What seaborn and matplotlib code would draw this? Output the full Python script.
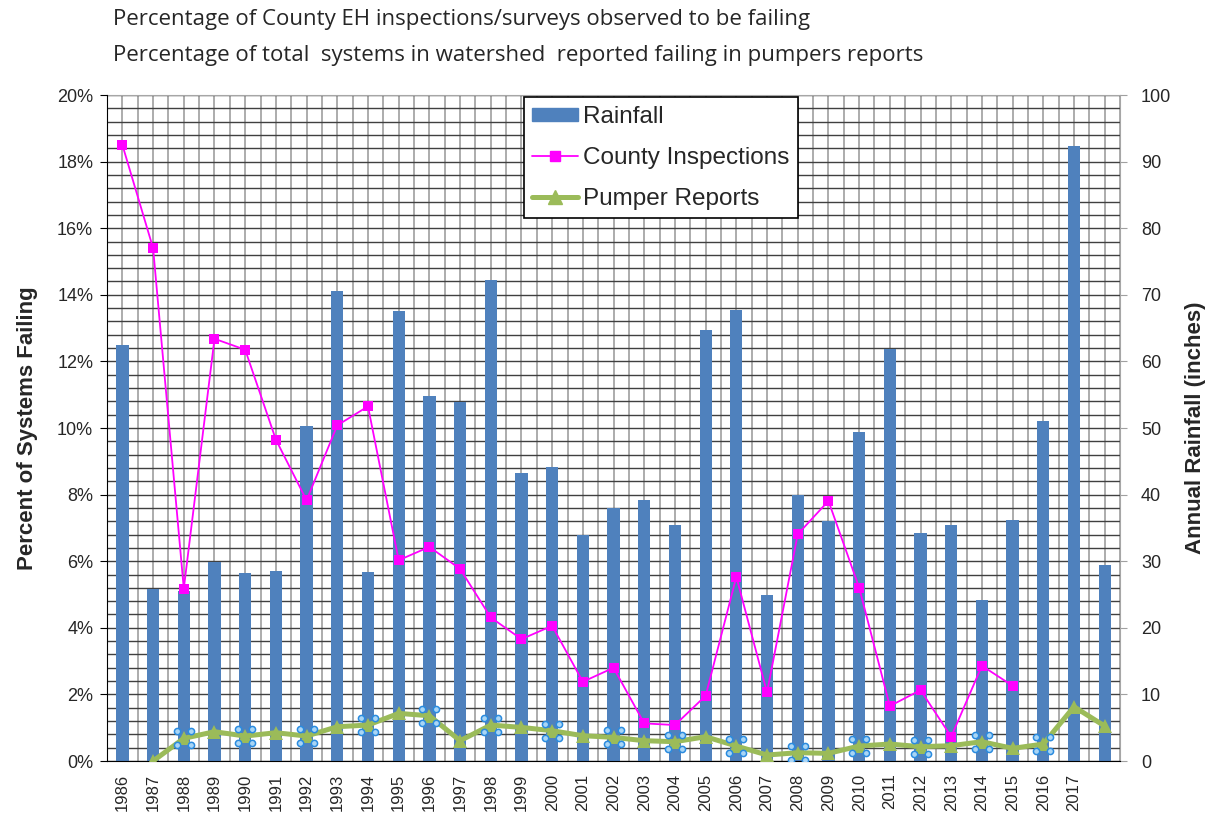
import numpy as np
import pandas as pd
import seaborn as sns
import matplotlib.pyplot as plt
from matplotlib.path import Path
from matplotlib.patches import Patch
from matplotlib.lines import Line2D
from matplotlib.ticker import MultipleLocator, FuncFormatter

# years on the category axis (the last bar carries no label)
years = [str(y) for y in range(1986, 2019)]
tick_labels = years[:-1] + ['']

# annual rainfall, inches
rainfall = [62.5, 25.9, 25.5, 29.9, 28.2, 28.5, 50.3, 70.5, 28.4, 67.5,
            54.8, 53.9, 72.2, 43.2, 44.1, 33.9, 38.0, 39.2, 35.4, 64.7,
            67.7, 24.9, 39.9, 36.0, 49.4, 61.9, 34.2, 35.5, 24.2, 36.2,
            51.1, 92.3, 29.5]

# percent of county inspections observed failing
county = [18.5, 15.4, 5.18, 12.68, 12.35, 9.65, 7.83, 10.08, 10.65, 6.03,
          6.43, 5.77, 4.31, 3.66, 4.06, 2.38, 2.80, 1.13, 1.08, 1.96,
          5.53, 2.06, 6.81, 7.81, 5.21, 1.65, 2.13, 0.73, 2.86, 2.26,
          np.nan, np.nan, np.nan]

# percent of systems reported failing in pumper reports
pumper = [np.nan, 0.0, 0.68, 0.88, 0.75, 0.85, 0.75, 1.03, 1.08, 1.43,
          1.36, 0.61, 1.08, 1.01, 0.91, 0.76, 0.71, 0.61, 0.58, 0.73,
          0.45, 0.18, 0.25, 0.23, 0.45, 0.51, 0.43, 0.46, 0.58, 0.38,
          0.51, 1.63, 1.05]

# pumper points that carry the little selection handles
handle_years = ['1988', '1990', '1992', '1994', '1996', '1998', '2000', '2002',
                '2004', '2006', '2008', '2010', '2012', '2014', '2016']

df = pd.DataFrame({'year': years, 'rainfall': rainfall,
                   'county': county, 'pumper': pumper})
df['pumper_sel'] = df['pumper'].where(df['year'].isin(handle_years))

sns.set_style('white')
plt.rcParams['font.family'] = ['Liberation Sans', 'DejaVu Sans']

BAR = '#4F81BD'
PINK = '#FF00FF'
GREEN = '#9BBB59'

fig = plt.figure(figsize=(12.11, 8.19), dpi=100)
ax = fig.add_axes([0.0884, 0.0708, 0.8365, 0.8132])
ax2 = ax.twinx()

# bars on the bottom axes (rainfall, right side scale)
sns.barplot(data=df, x='year', y='rainfall', order=years, color=BAR,
            saturation=1, width=0.4, linewidth=0, ax=ax, zorder=2)

# lines on the twin axes (percent, left side scale)
sns.pointplot(data=df, x='year', y='pumper', order=years, color=GREEN,
              errorbar=None, markers='^', linewidth=3.6, markersize=9.5,
              markeredgewidth=0, ax=ax2)

# four-circle selection handle marker
circ = Path.circle((0, 0), 0.45)
handle_path = Path.make_compound_path(
    *[Path(circ.vertices + np.array(off), circ.codes)
      for off in [(-1, -1), (1, -1), (-1, 1), (1, 1)]])
sns.pointplot(data=df, x='year', y='pumper_sel', order=years, color='#2A8BDF',
              errorbar=None, markers=handle_path, linestyles='none',
              markersize=14.5, markeredgewidth=1.1,
              markerfacecolor='#A9D5F5', ax=ax2)

sns.pointplot(data=df, x='year', y='county', order=years, color=PINK,
              errorbar=None, markers='s', linewidth=1.3, markersize=7,
              markeredgewidth=0, ax=ax2)

n = len(years)
ax.set_xlim(-0.5, n - 0.5)

# rainfall axis on the right
ax.set_ylim(0, 100)
ax.yaxis.set_major_locator(MultipleLocator(10))
ax.yaxis.set_minor_locator(MultipleLocator(2))
ax.yaxis.tick_right()
ax.yaxis.set_label_position('right')
ax.set_ylabel('Annual Rainfall (inches)', fontsize=16, fontweight='bold',
              labelpad=10)
ax.tick_params(axis='y', which='major', labelsize=13, length=5,
               color='#a0a0a0', direction='out', pad=10)
ax.tick_params(axis='y', which='minor', length=0)

# percent axis on the left
ax2.set_ylim(0, 20)
ax2.yaxis.set_major_locator(MultipleLocator(2))
ax2.yaxis.set_major_formatter(FuncFormatter(lambda v, p: f'{v:.0f}%'))
ax2.yaxis.tick_left()
ax2.yaxis.set_label_position('left')
ax2.set_ylabel('Percent of Systems Failing', fontsize=16, fontweight='bold',
               labelpad=14)
ax2.tick_params(axis='y', labelsize=13, length=5, color='black',
                direction='out', pad=5)

# category axis: labels at centres, ticks at bar boundaries
ax.set_xticks(range(n))
ax.set_xticklabels(tick_labels, rotation=90, fontsize=12)
ax.tick_params(axis='x', which='major', length=0, pad=9)
ax.tick_params(axis='x', which='minor', length=6, color='black',
               direction='out')
ax.set_xlabel('')
ax2.set_xlabel('')

# gridlines behind the bars, every half category and every 2 inches
ax.set_axisbelow(True)
ax.set_xticks(np.arange(-0.5, n, 0.5), minor=True)
ax.grid(which='both', axis='x', color='#a6a6a6', linewidth=1.3)
ax.grid(which='both', axis='y', color='#404040', linewidth=1.0)

for s in ['top', 'right']:
    ax.spines[s].set_color('#a6a6a6')
ax.spines['bottom'].set_color('black')
ax.spines['left'].set_visible(False)
for s in ['top', 'right', 'bottom']:
    ax2.spines[s].set_visible(False)
ax2.spines['left'].set_color('black')

handles = [
    Patch(facecolor=BAR, edgecolor=BAR),
    Line2D([], [], color=PINK, marker='s', linewidth=1.3, markersize=7),
    Line2D([], [], color=GREEN, marker='^', linewidth=3.6, markersize=9.5),
]
leg = ax2.legend(handles, ['Rainfall', 'County Inspections', 'Pumper Reports'],
                 loc='upper left', bbox_to_anchor=(0.409, 1.0), fontsize=17.5,
                 frameon=True, fancybox=False, framealpha=1,
                 edgecolor='black', handlelength=1.9, handleheight=0.45,
                 handletextpad=0.2, borderpad=0.35, labelspacing=0.78,
                 borderaxespad=0.1)
leg.get_frame().set_linewidth(1.2)

sub_font = ['Liberation Sans Narrow', 'Open Sans', 'DejaVu Sans']
fig.text(113 / 1211, 1 - 20 / 819,
         'Percentage of County EH inspections/surveys observed to be failing',
         fontsize=16, family=sub_font, va='center', ha='left')
fig.text(113 / 1211, 1 - 55 / 819,
         'Percentage of total  systems in watershed  reported failing in pumpers reports',
         fontsize=16, family=sub_font, va='center', ha='left')

fig.savefig('out.png', dpi=100)
